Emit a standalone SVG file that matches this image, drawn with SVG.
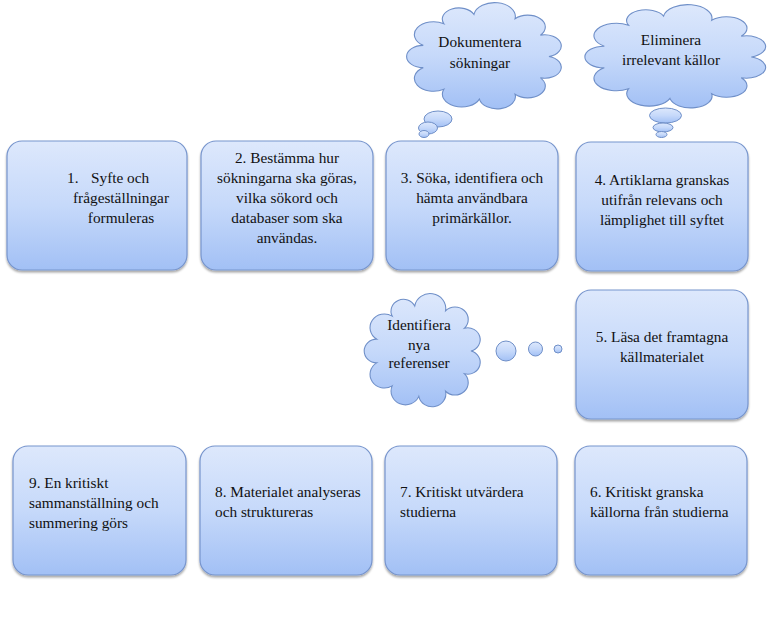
<svg xmlns="http://www.w3.org/2000/svg" xmlns:xlink="http://www.w3.org/1999/xlink" width="778" height="620" viewBox="0 0 778 620" font-family="'Liberation Serif', 'Times New Roman', serif">
<style>
.box{fill:url(#g);stroke:#7795cd;stroke-width:1.2;filter:url(#sh)}
.cl{fill:url(#g);stroke:#6f8fc8;stroke-width:1.1}
.cb{fill:url(#g);stroke:#6f8fc8;stroke-width:1}
text{font-family:'Liberation Serif', 'Times New Roman', serif;font-size:15.3px;fill:#111}
.c{text-anchor:middle}
</style>
<defs>
<linearGradient id="g" x1="0" y1="0" x2="0" y2="1">
<stop offset="0" stop-color="#dde8fc"/>
<stop offset="0.5" stop-color="#c6d9fa"/>
<stop offset="1" stop-color="#a2c0f5"/>
</linearGradient>
<filter id="sh" x="-10%" y="-10%" width="120%" height="125%">
<feDropShadow dx="0" dy="2" stdDeviation="1.3" flood-color="#000" flood-opacity="0.35"/>
</filter>
<path id="cloud" d="M43.1,10.6 A1,1 0 0 1 68.8,14.7 A1,1 0 0 1 84.6,30 A1,1 0 0 1 90,50 A1,1 0 0 1 84.6,70 A1,1 0 0 1 68.8,85.3 A1,1 0 0 1 46.5,89.8 A1,1 0 0 1 24.3,80.6 A1,1 0 0 1 11.4,60.4 A1,1 0 0 1 11.4,39.6 A1,1 0 0 1 24.3,19.4 A1,1 0 0 1 43.1,10.6 Z" vector-effect="non-scaling-stroke"/>
</defs>

<g id="connectors"></g>

<g id="cloud1">
<use xlink:href="#cloud" class="cl" transform="translate(405,3) scale(1.6,1.07)"/>
<ellipse class="cb" cx="438" cy="119" rx="14" ry="8"/>
<ellipse class="cb" cx="428" cy="128" rx="9.5" ry="6"/>
<ellipse class="cb" cx="424" cy="134" rx="5" ry="3.5"/>
<text class="c" x="480" y="47">Dokumentera</text>
<text class="c" x="480" y="68">sökningar</text>
</g>

<g id="cloud2">
<use xlink:href="#cloud" class="cl" transform="translate(583,5) scale(1.87,1.04)"/>
<ellipse class="cb" cx="665.5" cy="115.5" rx="16" ry="7.5"/>
<ellipse class="cb" cx="663" cy="127.5" rx="10" ry="4.5"/>
<ellipse class="cb" cx="661.5" cy="134.5" rx="5.5" ry="3"/>
<text class="c" x="671" y="45">Eliminera</text>
<text class="c" x="671" y="65">irrelevant källor</text>
</g>

<g id="cloud3">
<use xlink:href="#cloud" class="cl" transform="translate(363,294) scale(1.2,1.14)"/>
<circle class="cb" cx="506" cy="351" r="10"/>
<circle class="cb" cx="535.5" cy="349" r="7"/>
<circle class="cb" cx="558" cy="349" r="4"/>
<text class="c" x="419" y="330">Identifiera</text>
<text class="c" x="419" y="350">nya</text>
<text class="c" x="419" y="368">referenser</text>
</g>

<g id="n1">
<rect class="box" x="7" y="141" width="180" height="129" rx="15"/>
<text x="67" y="183">1.</text>
<text x="91" y="183">Syfte och</text>
<text class="c" x="121" y="203">frågeställningar</text>
<text class="c" x="121" y="223">formuleras</text>
</g>

<g id="n2">
<rect class="box" x="201" y="141" width="172" height="129" rx="15"/>
<text class="c" x="287" y="163">2. Bestämma hur</text>
<text class="c" x="287" y="183">sökningarna ska göras,</text>
<text class="c" x="287" y="203">vilka sökord och</text>
<text class="c" x="287" y="223">databaser som ska</text>
<text class="c" x="287" y="243">användas.</text>
</g>

<g id="n3">
<rect class="box" x="386" y="141" width="172" height="129" rx="15"/>
<text class="c" x="472" y="183">3. Söka, identifiera och</text>
<text class="c" x="472" y="203">hämta användbara</text>
<text class="c" x="472" y="223">primärkällor.</text>
</g>

<g id="n4">
<rect class="box" x="576" y="142" width="172" height="129" rx="15"/>
<text class="c" x="662" y="185">4. Artiklarna granskas</text>
<text class="c" x="662" y="205">utifrån relevans och</text>
<text class="c" x="662" y="225">lämplighet till syftet</text>
</g>

<g id="n5">
<rect class="box" x="576" y="290" width="172" height="129" rx="15"/>
<text class="c" x="662" y="342">5. Läsa det framtagna</text>
<text class="c" x="662" y="362">källmaterialet</text>
</g>

<g id="n6">
<rect class="box" x="575" y="446" width="172" height="129" rx="15"/>
<text x="590" y="497">6. Kritiskt granska</text>
<text x="590" y="517">källorna från studierna</text>
</g>

<g id="n7">
<rect class="box" x="385" y="446" width="172" height="129" rx="15"/>
<text x="400" y="497">7. Kritiskt utvärdera</text>
<text x="400" y="517">studierna</text>
</g>

<g id="n8">
<rect class="box" x="200" y="446" width="172" height="129" rx="15"/>
<text x="215" y="497">8. Materialet analyseras</text>
<text x="215" y="517">och struktureras</text>
</g>

<g id="n9">
<rect class="box" x="13" y="446" width="173" height="129" rx="15"/>
<text x="29" y="488">9. En kritiskt</text>
<text x="29" y="508">sammanställning och</text>
<text x="29" y="528">summering görs</text>
</g>
</svg>
